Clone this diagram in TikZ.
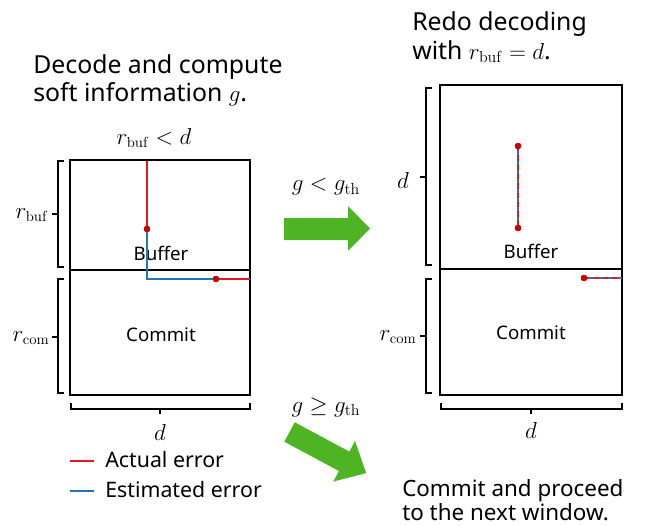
\documentclass[tikz,border=0pt]{standalone}
\usepackage[no-math]{fontspec}
\setmainfont{Noto Sans}
\definecolor{errred}{RGB}{225,25,30}
\definecolor{errblue}{RGB}{40,115,185}
\definecolor{dotred}{RGB}{200,0,0}
\definecolor{arrgreen}{RGB}{77,180,35}
\tikzset{
  region/.style={draw, line width=1.5pt, inner sep=0pt, outer sep=0pt, anchor=north west},
  brk/.style={line width=0.9pt},
  title/.style={font=\fontsize{18.6}{22}\selectfont, anchor=base west, inner sep=0pt},
  bigtitle/.style={font=\fontsize{16.8}{20}\selectfont, anchor=base west, inner sep=0pt},
  boxlab/.style={font=\fontsize{14}{16}\selectfont, inner sep=0pt},
  mlab/.style={font=\fontsize{16}{19}\selectfont, inner sep=0pt},
  alab/.style={font=\fontsize{18.5}{21}\selectfont, inner sep=0pt},
  leg/.style={font=\fontsize{16}{19}\selectfont, anchor=base west, inner sep=0pt},
  redline/.style={errred, line width=1.2pt},
  blueline/.style={errblue, line width=1.2pt},
  dashred/.style={errred, line width=1.2pt, dash pattern=on 4pt off 3pt},
  errdot/.style={circle, fill=dotred, inner sep=0pt, minimum size=4.8pt},
  bigarrow/.style={fill=arrgreen}
}
\begin{document}
\begin{tikzpicture}[x=0.75pt,y=-0.75pt]
\useasboundingbox (0,0) rectangle (649,525);

% titles
\node[title] (t1) at (33,73) {Decode and compute};
\node[title] (t2) at (33,101) {soft information $g$.};
\node[title] (t3) at (412,30) {Redo decoding};
\node[title] (t4) at (412,59) {with $r_{\mathrm{buf}} = d$.};
\node[bigtitle] (t5) at (402,496) {Commit and proceed};
\node[bigtitle] (t6) at (402,520) {to the next window.};

% left box
\node[region, minimum width=135pt, minimum height=82.5pt] (lbuf) at (70,160) {};
\node[region, minimum width=135pt, minimum height=93.75pt] (lcom) at (70,270) {};
\node[boxlab] (lbuft) at (161,253) {Buffer};
\node[boxlab] (lcomt) at (161,335) {Commit};
\node[mlab] (lcond) at (154,138) {$r_{\mathrm{buf}} < d$};

% left brackets
\draw[brk] (64,161) -- (58,161) -- (58,267) -- (64,267);
\draw[brk] (58,214) -- (52,214);
\draw[brk] (64,279) -- (58,279) -- (58,393) -- (64,393);
\draw[brk] (58,337) -- (52,337);
\draw[brk] (71,403) -- (71,409) -- (250,409) -- (250,403);
\draw[brk] (160,409) -- (160,414);
\node[mlab] (lrbuf) at (32,215) {$r_{\mathrm{buf}}$};
\node[mlab] (lrcom) at (31,338) {$r_{\mathrm{com}}$};
\node[mlab] (ld) at (160,432) {$d$};

% left errors
\coordinate (la) at (147,161);
\node[errdot] (ld1) at (147,229) {};
\coordinate (lb) at (147,279);
\coordinate (lc) at (250,279);
\node[errdot] (ld2) at (216,279) {};
\draw[redline] (la) -- (ld1.center);
\draw[blueline] (ld1.center) -- (lb) -- (lc);
\draw[redline] (ld2.center) -- (lc);
\node[errdot] at (ld1) {};
\node[errdot] at (ld2) {};

% right box
\node[region, minimum width=136.5pt, minimum height=138pt] (rbuf) at (440,85) {};
\node[region, minimum width=136.5pt, minimum height=94.5pt] (rcom) at (440,269) {};
\node[boxlab] (rbuft) at (531,251) {Buffer};
\node[boxlab] (rcomt) at (531,333) {Commit};

% right brackets
\draw[brk] (432,88) -- (426,88) -- (426,265) -- (432,265);
\draw[brk] (426,177) -- (420,177);
\draw[brk] (432,279) -- (426,279) -- (426,393) -- (432,393);
\draw[brk] (426,336) -- (420,336);
\draw[brk] (441,403) -- (441,409) -- (622,409) -- (622,403);
\draw[brk] (531,409) -- (531,414);
\node[mlab] (rdl) at (403,180) {$d$};
\node[mlab] (rrcom) at (398,337) {$r_{\mathrm{com}}$};
\node[mlab] (rd) at (531,430) {$d$};

% right errors
\node[errdot] (rd1) at (518,146) {};
\node[errdot] (rd2) at (518,228) {};
\node[errdot] (rd3) at (584,278) {};
\coordinate (rc) at (622,278);
\draw[blueline] (rd1.center) -- (rd2.center);
\draw[dashred] (rd1.center) -- (rd2.center);
\draw[blueline] (rd3.center) -- (rc);
\draw[dashred] (rd3.center) -- (rc);
\node[errdot] at (rd1) {};
\node[errdot] at (rd2) {};
\node[errdot] at (rd3) {};

% arrows
\node[alab] (c1) at (326,187) {$g < g_{\mathrm{th}}$};
\fill[bigarrow] (284,218) -- (348,218) -- (348,206) -- (370,228.5) -- (348,251) -- (348,240) -- (284,240) -- cycle;
\node[alab] (c2) at (326,407) {$g \geq g_{\mathrm{th}}$};
\begin{scope}[shift={(289.5,432)}, rotate=-28.2]
\fill[bigarrow] (0,-11) -- (62,-11) -- (62,-23) -- (87,0) -- (62,23) -- (62,11) -- (0,11) -- cycle;
\end{scope}

% legend
\coordinate (lg1a) at (70,461);
\coordinate (lg1b) at (94,461);
\coordinate (lg2a) at (70,491);
\coordinate (lg2b) at (94,491);
\draw[errred, line width=2pt] (lg1a) -- (lg1b);
\draw[errblue, line width=2pt] (lg2a) -- (lg2b);
\node[leg] (lt1) at (105,467) {Actual error};
\node[leg] (lt2) at (105,497) {Estimated error};
\end{tikzpicture}
\end{document}
